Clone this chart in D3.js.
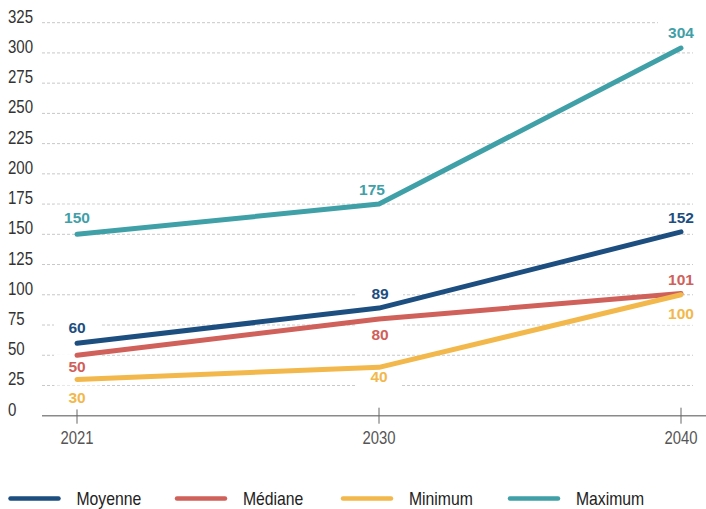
<!DOCTYPE html>
<html><head><meta charset="utf-8">
<script src="https://cdn.jsdelivr.net/npm/d3@7"></script>
<style>
body{margin:0;background:#fff;}
svg{display:block;}
.cond{font-family:"Liberation Sans",Arial,sans-serif;}
</style></head>
<body><svg id="c" width="706" height="509"></svg>
<script>
const years = ["2021", "2030", "2040"];
const yTicks = [0, 25, 50, 75, 100, 125, 150, 175, 200, 225, 250, 275, 300, 325];
const moyenne = [60, 89, 152];
const mediane = [50, 80, 101];
const minimum = [30, 40, 100];
const maximum = [150, 175, 304];
const seriesNames = ["Moyenne", "Médiane", "Minimum", "Maximum"];
const seriesColors = ["#1d4e80", "#d0605a", "#f2b84b", "#3fa0a8"];
// label baseline offset from point (px) and horizontal nudge
const labelDy = [[-10, -9, -8.6], [17, 21, -8.6], [24, 15, 24], [-11.6, -9, -9.8]];
const labelDx = [[0, 1, 0], [0, 1, 0], [0, 0, 0], [0, -7, 0]];

const series = [moyenne, mediane, minimum, maximum].map((v, i) => ({
  name: seriesNames[i], color: seriesColors[i], values: v, dy: labelDy[i], dx: labelDx[i]
}));

const svg = d3.select("#c");
const x = d3.scalePoint().domain(years).range([77, 681]);
const y = d3.scaleLinear().domain([0, 325]).range([415.7, 22.7]);

// grid
svg.append("g").selectAll("line").data(yTicks.filter(d => d > 0)).join("line")
  .attr("x1", 42).attr("x2", 693)
  .attr("y1", d => y(d)).attr("y2", d => y(d))
  .attr("stroke", "#c8c8c8").attr("stroke-width", 1).attr("stroke-dasharray", "3,2");

// y labels (condensed via horizontal scale)
svg.append("g").attr("class", "cond").selectAll("text").data(yTicks).join("text")
  .attr("transform", d => `translate(8,${y(d)}) scale(0.86,1)`)
  .attr("font-size", 17.5).attr("fill", "#333").text(d => d);

// x axis
svg.append("line").attr("x1", 42).attr("x2", 706).attr("y1", y(0)).attr("y2", y(0))
  .attr("stroke", "#8a8a8a").attr("stroke-width", 1.5);
svg.append("g").selectAll("line").data(years).join("line")
  .attr("x1", d => x(d)).attr("x2", d => x(d))
  .attr("y1", y(0) - 8).attr("y2", y(0) + 8)
  .attr("stroke", "#666").attr("stroke-width", 1);
svg.append("g").attr("class", "cond").selectAll("text").data(years).join("text")
  .attr("transform", d => `translate(${x(d)},444.3) scale(0.85,1)`)
  .attr("text-anchor", "middle")
  .attr("font-size", 17.5).attr("fill", "#555").text(d => d);

// label positions
const labels = [];
series.forEach(s => s.values.forEach((v, j) => {
  labels.push({ s, v, cx: x(years[j]) + s.dx[j], by: y(v) + s.dy[j] });
}));

// white boxes behind labels (break gridlines)
svg.append("g").selectAll("rect").data(labels).join("rect")
  .attr("x", d => d.cx - 23).attr("y", d => d.by - 18)
  .attr("width", 46).attr("height", 24).attr("fill", "#fff");

// lines
const line = d3.line().x((d, j) => x(years[j])).y(d => y(d));
svg.append("g").selectAll("path").data(series).join("path")
  .attr("d", d => line(d.values)).attr("fill", "none")
  .attr("stroke", d => d.color).attr("stroke-width", 5)
  .attr("stroke-linecap", "round").attr("stroke-linejoin", "round");

// value labels
svg.append("g").selectAll("text").data(labels).join("text")
  .attr("x", d => d.cx).attr("y", d => d.by).attr("text-anchor", "middle")
  .attr("font-family", "'Liberation Sans', Arial, sans-serif").attr("font-weight", 700)
  .attr("font-size", 15.5).attr("fill", d => d.s.color).text(d => d.v);

// legend
const legX = [10.5, 177, 343, 510];
const lg = svg.append("g").selectAll("g").data(series).join("g")
  .attr("transform", (d, i) => `translate(${legX[i]},498.5)`);
lg.append("line").attr("x1", 0).attr("x2", 48).attr("y1", 0).attr("y2", 0)
  .attr("stroke", d => d.color).attr("stroke-width", 4.5).attr("stroke-linecap", "round");
lg.append("text").attr("class", "cond")
  .attr("transform", "translate(66,6.3) scale(0.9,1)")
  .attr("font-size", 17.5).attr("fill", "#222").text(d => d.name);
</script></body></html>
